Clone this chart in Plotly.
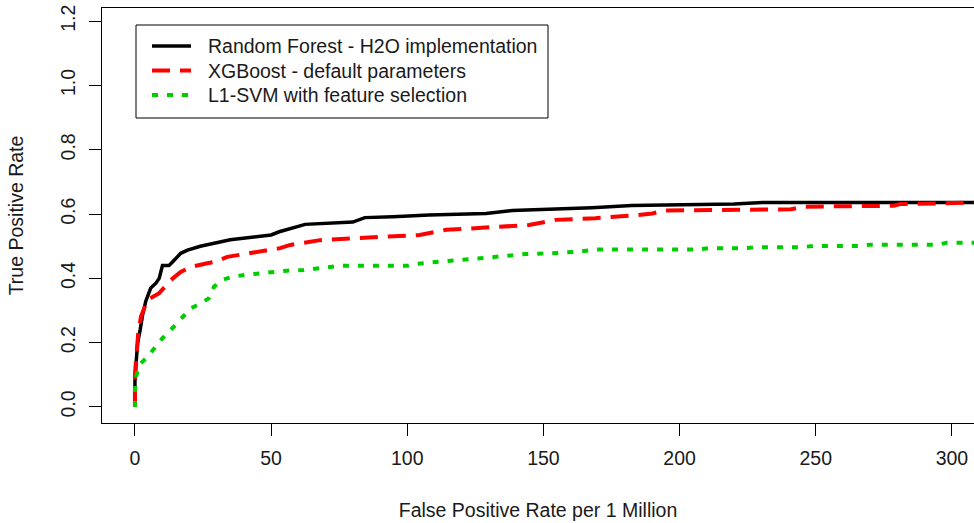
import plotly.graph_objects as go

# ROC-style curves: true positive rate vs false positives per million
fpr_rf = [0, 0, 0.5, 1.0, 1.9, 2.8, 4.0, 5.8, 7.7, 8.9, 10.1, 12.5, 13.7, 16.8, 19.3,
          24, 35, 50, 53, 57.6, 62.5, 80, 84.4, 94.7, 108, 128.9, 138.5, 167.8, 182.4,
          220, 230.5, 310]
tpr_rf = [0, 0.08, 0.146, 0.20, 0.24, 0.286, 0.33, 0.37, 0.385, 0.40, 0.44, 0.44, 0.45,
          0.478, 0.488, 0.50, 0.52, 0.535, 0.545, 0.556, 0.568, 0.575, 0.589, 0.592,
          0.597, 0.602, 0.611, 0.62, 0.627, 0.631, 0.636, 0.636]

fpr_xgb = [0, 0, 0.4, 1.2, 2.2, 4.6, 8.9, 13.2, 16.8, 20.5, 26.6, 29.6, 33.9, 38.7, 44.8,
           48.5, 53.3, 57, 68, 81.4, 93.5, 104.5, 114.3, 126.4, 133.7, 144.7, 154.4, 169,
           184.9, 190, 194.6, 240.9, 245.8, 278.6, 281, 310]
tpr_xgb = [0, 0.10, 0.146, 0.229, 0.281, 0.333, 0.354, 0.395, 0.42, 0.436, 0.447, 0.452,
           0.467, 0.473, 0.483, 0.488, 0.494, 0.504, 0.519, 0.525, 0.530, 0.535, 0.551,
           0.556, 0.561, 0.566, 0.582, 0.587, 0.597, 0.602, 0.611, 0.615, 0.623, 0.626,
           0.631, 0.636]

fpr_svm = [0, 0, 0.4, 1.6, 4.6, 7.1, 10.1, 13.2, 17.4, 20.5, 24.1, 27.1, 27.8, 29, 32,
           35.7, 40.6, 50.9, 55.8, 62, 71.6, 75, 100, 103.3, 111.8, 122.8, 132.5, 143.5,
           153, 164, 169, 207, 211, 224, 228, 245, 249, 266, 270, 295, 298, 310]
tpr_svm = [0, 0.05, 0.094, 0.131, 0.156, 0.183, 0.214, 0.24, 0.281, 0.307, 0.322, 0.338,
           0.348, 0.374, 0.395, 0.405, 0.411, 0.421, 0.424, 0.426, 0.435, 0.439, 0.439,
           0.445, 0.452, 0.459, 0.467, 0.476, 0.478, 0.484, 0.49, 0.49, 0.494, 0.494,
           0.497, 0.497, 0.501, 0.501, 0.505, 0.505, 0.511, 0.511]

series_names = ["Random Forest - H2O implementation",
                "XGBoost - default parameters",
                "L1-SVM with feature selection"]
x_ticks = [0, 50, 100, 150, 200, 250, 300]
y_ticks = [0.0, 0.2, 0.4, 0.6, 0.8, 1.0, 1.2]

styles = [dict(color="black", width=3.5, dash="solid"),
          dict(color="#ff0000", width=4, dash="18px,10px"),
          dict(color="#00cd00", width=4, dash="6px,9px")]

W, H = 974, 523
ML, MT, MB = 102, 8, 100
PW, PH = W - ML, H - MT - MB

fig = go.Figure()
for xs, ys, name, st in zip([fpr_rf, fpr_xgb, fpr_svm], [tpr_rf, tpr_xgb, tpr_svm],
                            series_names, styles):
    fig.add_trace(go.Scatter(x=xs, y=ys, mode="lines", name=name, line=st,
                             showlegend=False))

FONT = "Liberation Sans, Arial, sans-serif"
TXT = "#1a1a1a"
FS = 19.5

# legend box drawn in pixel units converted to paper coordinates
def px(xp):
    return (xp - ML) / PW

def py(yp):
    return (MT + PH - yp) / PH

shapes = [dict(type="rect", xref="paper", yref="paper",
               x0=px(136), x1=px(548), y0=py(118), y1=py(25),
               line=dict(color="black", width=1), fillcolor="white", layer="above")]
annotations = []
for i, (name, st) in enumerate(zip(series_names, styles)):
    yy = 46 + i * 24.5
    shapes.append(dict(type="line", xref="paper", yref="paper",
                       x0=px(152), x1=px(191), y0=py(yy), y1=py(yy),
                       line=dict(color=st["color"], width=st["width"], dash=st["dash"]),
                       layer="above"))
    annotations.append(dict(text=name, xref="paper", yref="paper",
                            x=px(206), y=py(yy), xanchor="left", yanchor="middle",
                            showarrow=False, font=dict(family=FONT, size=FS, color=TXT)))

fig.update_layout(
    width=W, height=H,
    margin=dict(l=ML, r=0, t=MT, b=MB, pad=0),
    paper_bgcolor="white", plot_bgcolor="white",
    font=dict(family=FONT, size=FS, color=TXT),
    shapes=shapes, annotations=annotations,
)
fig.update_xaxes(
    range=[-12.1, 308.1], tickvals=x_ticks, ticktext=[str(v) for v in x_ticks],
    showgrid=False, zeroline=False,
    showline=True, linecolor="black", linewidth=1, mirror=True,
    ticks="outside", ticklen=12, tickwidth=1, tickcolor="black",
    tickfont=dict(family=FONT, size=FS, color=TXT), ticklabelstandoff=6,
    title=dict(text="False Positive Rate per 1 Million", standoff=34,
               font=dict(family=FONT, size=FS, color=TXT)),
    automargin=False,
)
fig.update_yaxes(
    range=[-0.0498, 1.241], tickvals=y_ticks, ticktext=[f"{v:.1f}" for v in y_ticks],
    showgrid=False, zeroline=False,
    showline=True, linecolor="black", linewidth=1,
    ticks="outside", ticklen=12, tickwidth=1, tickcolor="black", tickangle=-90,
    tickfont=dict(family=FONT, size=FS, color=TXT), ticklabelstandoff=6,
    title=dict(text="True Positive Rate", standoff=28,
               font=dict(family=FONT, size=FS, color=TXT)),
    automargin=False,
)

fig.write_html("out.html")
